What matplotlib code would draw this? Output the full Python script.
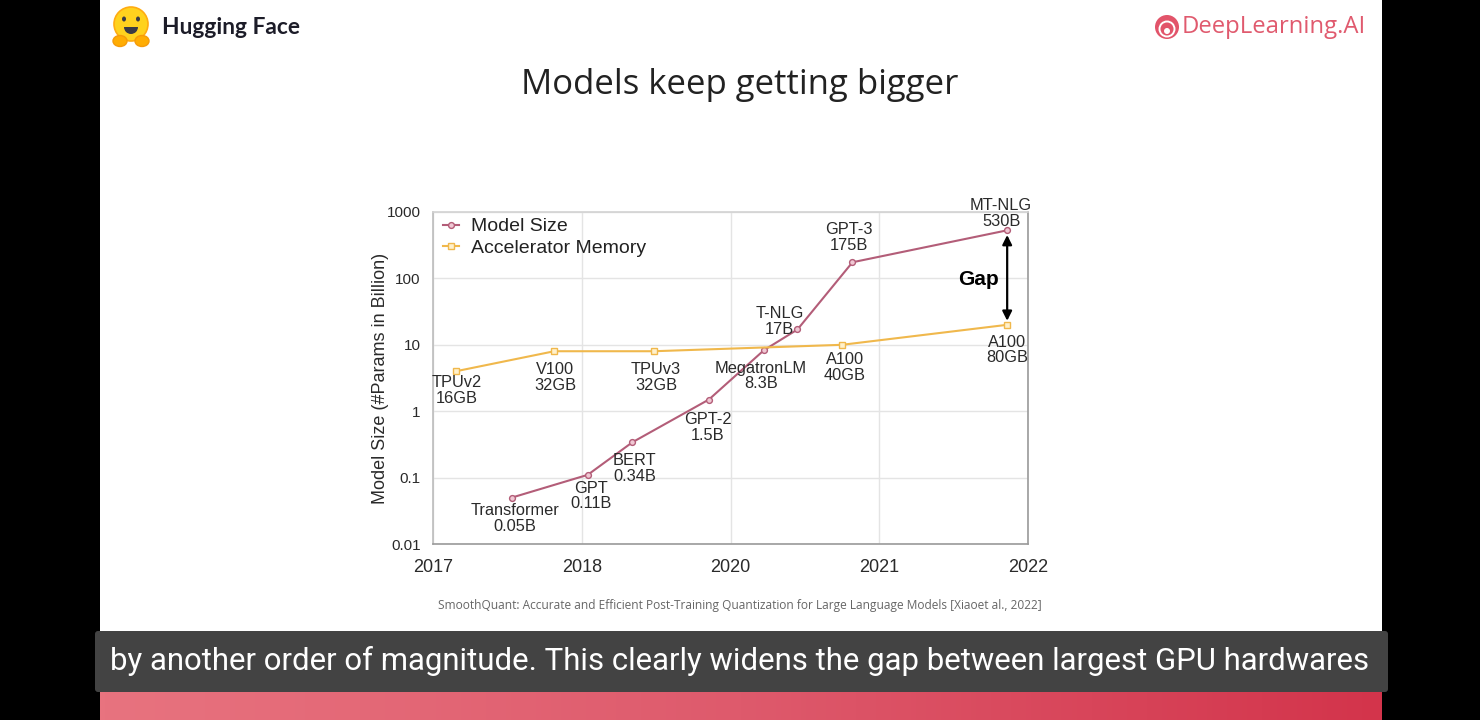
import matplotlib
matplotlib.use("Agg")
import matplotlib.pyplot as plt
import numpy as np
from matplotlib.patches import Rectangle, Circle, Ellipse, FancyBboxPatch, Wedge
from matplotlib.colors import LinearSegmentedColormap

# chart data (x in tick units: 0=2017 ... 4=2022)
YEAR_TICKS = ["2017", "2018", "2020", "2021", "2022"]
Y_TICKS = [0.01, 0.1, 1, 10, 100, 1000]
Y_TICK_LABELS = ["0.01", "0.1", "1", "10", "100", "1000"]

model_names = ["Transformer", "GPT", "BERT", "GPT-2", "MegatronLM", "T-NLG", "GPT-3", "MT-NLG"]
model_size_text = ["0.05B", "0.11B", "0.34B", "1.5B", "8.3B", "17B", "175B", "530B"]
model_x = [0.53, 1.04, 1.34, 1.855, 2.225, 2.45, 2.82, 3.86]
model_params = [0.05, 0.11, 0.34, 1.5, 8.3, 17, 175, 530]

accel_names = ["TPUv2", "V100", "TPUv3", "A100", "A100"]
accel_mem_text = ["16GB", "32GB", "32GB", "40GB", "80GB"]
accel_x = [0.155, 0.815, 1.485, 2.75, 3.86]
accel_params = [4, 8, 8, 10, 20]

gap_top = 450
gap_bottom = 23

# label offsets in pixels (text centre relative to marker)
model_offsets = [(3, -21), (3, -21), (2, -26), (-1, -28), (-3, -26), (-18, 8), (-4, 25), (-6, 17)]
accel_offsets = [(1, -19), (1, -26), (2, -26), (3, -23), (0, -25)]

MODEL_COLOR = "#b35d78"
ACCEL_COLOR = "#f0b84c"
TEXT_COLOR = "#2a2a2a"
ARIAL = "Liberation Sans"

fig = plt.figure(figsize=(14.8, 7.2), dpi=100, facecolor="black")

# slide background and decorations, in pixel coordinates
bg = fig.add_axes([0, 0, 1, 1])
bg.set_axis_off()
bg.add_patch(Rectangle((100, 0), 1282, 692, facecolor="white", edgecolor="none"))

band = LinearSegmentedColormap.from_list("band", ["#e8737f", "#de5a6c", "#d3344b"])
gradient = np.linspace(0, 1, 256).reshape(1, -1)
bg.imshow(gradient, cmap=band, extent=(100, 1382, 720, 692), aspect="auto", zorder=1)

bg.add_patch(FancyBboxPatch((97, 633), 1289, 57, boxstyle="round,pad=2,rounding_size=3",
                            facecolor="#434343", edgecolor="none", zorder=2))
bg.text(740, 661, "by another order of magnitude. This clearly widens the gap between largest GPU hardwares",
        ha="center", va="center", fontsize=22.4, family="Roboto", color="white", zorder=3)

# Hugging Face logo
bg.add_patch(Circle((131, 24), 17, facecolor="#FFD21E", edgecolor="#FFAC12", lw=1.2, zorder=3))
bg.add_patch(Ellipse((124, 19), 4, 5, facecolor="#3a3b45", zorder=4))
bg.add_patch(Ellipse((138, 19), 4, 5, facecolor="#3a3b45", zorder=4))
bg.add_patch(Wedge((131, 27), 7, 0, 180, facecolor="#3a3b45", zorder=4))
bg.add_patch(Ellipse((120, 41), 14, 11, facecolor="#FFAD03", edgecolor="#F59B0A", zorder=5))
bg.add_patch(Ellipse((142, 41), 14, 11, facecolor="#FFAD03", edgecolor="#F59B0A", zorder=5))
bg.text(162, 27, "Hugging Face", ha="left", va="center", fontsize=16.4, fontweight="bold",
        family="Lato", color="#1c1c28", zorder=3)

# DeepLearning.AI logo
bg.add_patch(Circle((1167, 27), 12, facecolor="#e2546a", edgecolor="none", zorder=3))
bg.add_patch(Circle((1167, 29), 7.5, facecolor="none", edgecolor="white", lw=1.4, zorder=4))
bg.add_patch(Circle((1167, 31), 3, facecolor="white", edgecolor="none", zorder=4))
bg.text(1182, 27, "DeepLearning.AI", ha="left", va="center", fontsize=17.2,
        family="Open Sans", color="#e05a6e", zorder=3)

bg.text(740, 85, "Models keep getting bigger", ha="center", va="center", fontsize=25,
        family="Open Sans", color="#222222", zorder=3)
bg.text(740, 606, "SmoothQuant: Accurate and Efficient Post-Training Quantization for Large Language Models [Xiaoet al., 2022]",
        ha="center", va="center", fontsize=8.6, family="Open Sans", color="#666666", zorder=3)

bg.set_xlim(0, 1480)
bg.set_ylim(720, 0)

# the chart
ax = fig.add_axes([433 / 1480, (720 - 544) / 720, 595 / 1480, 332 / 720])
ax.set_facecolor("white")
ax.set_yscale("log")
ax.set_xlim(0, 4)
ax.set_ylim(0.01, 1000)
ax.set_xticks(range(len(YEAR_TICKS)), YEAR_TICKS)
ax.set_yticks(Y_TICKS, Y_TICK_LABELS)
ax.minorticks_off()
ax.tick_params(axis="both", length=0, colors=TEXT_COLOR)
ax.tick_params(axis="x", labelsize=13, pad=11)
ax.tick_params(axis="y", labelsize=11, pad=9)
for label in ax.get_xticklabels() + ax.get_yticklabels():
    label.set_family(ARIAL)
ax.grid(True, color="#e4e4e4", lw=1)
ax.set_axisbelow(True)
ax.spines["top"].set_color("#d2d2d2")
ax.spines["left"].set_color("#bcbcbc")
ax.spines["right"].set_color("#9a9a9a")
ax.spines["bottom"].set_color("#9a9a9a")
for spine in ax.spines.values():
    spine.set_linewidth(1.2)

ax.plot(model_x, model_params, color=MODEL_COLOR, lw=1.5, marker="o", ms=4.2,
        mfc="#f0c8d4", mec=MODEL_COLOR, mew=1.0, label="Model Size", zorder=3)
ax.plot(accel_x, accel_params, color=ACCEL_COLOR, lw=1.5, marker="s", ms=4.2,
        mfc="#fff1cc", mec=ACCEL_COLOR, mew=1.0, label="Accelerator Memory", zorder=3)

for name, size, x, y, off in zip(model_names, model_size_text, model_x, model_params, model_offsets):
    ax.annotate(f"{name}\n{size}", (x, y), xytext=off, textcoords="offset pixels",
                ha="center", va="center", fontsize=11.8, family=ARIAL, color=TEXT_COLOR,
                linespacing=1.05, annotation_clip=False, zorder=4)
for name, mem, x, y, off in zip(accel_names, accel_mem_text, accel_x, accel_params, accel_offsets):
    ax.annotate(f"{name}\n{mem}", (x, y), xytext=off, textcoords="offset pixels",
                ha="center", va="center", fontsize=11.8, family=ARIAL, color=TEXT_COLOR,
                linespacing=1.05, annotation_clip=False, zorder=4)

ax.annotate("", xy=(model_x[-1], gap_top), xytext=(model_x[-1], gap_bottom),
            arrowprops=dict(arrowstyle="<|-|>", color="black", lw=1.6,
                            mutation_scale=14, shrinkA=0, shrinkB=0), zorder=5)
ax.text(3.665, 95, "Gap", ha="center", va="center", fontsize=15, fontweight="bold",
        family=ARIAL, color="black", zorder=5)

ax.set_ylabel("Model Size (#Params in Billion)", fontsize=13, family=ARIAL, color=TEXT_COLOR)
ax.yaxis.set_label_coords(-0.0874, 0.5)
ax.yaxis.label.set_verticalalignment("center")

legend = ax.legend(loc="upper left", bbox_to_anchor=(0.007, 1.0), frameon=False,
                   handlelength=0.8, handletextpad=0.65, borderaxespad=0.0, borderpad=0.3,
                   labelspacing=0.2, prop={"family": ARIAL, "size": 14})
for text in legend.get_texts():
    text.set_color("#222222")

fig.savefig("out.png", dpi=100, facecolor=fig.get_facecolor())
